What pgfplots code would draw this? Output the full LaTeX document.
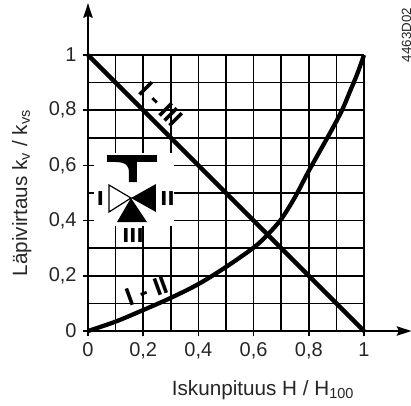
\documentclass[border=0pt]{standalone}
\usepackage{fontspec}
\setmainfont{Liberation Sans}
\usepackage{pgfplots}
\pgfplotsset{compat=1.18}
\usetikzlibrary{arrows.meta}
\begin{document}
\begin{tikzpicture}
\useasboundingbox (-66pt,-55.5pt) rectangle +(308.25pt,303.75pt);
\begin{axis}[
  at={(0,0)}, anchor=origin,
  scale only axis, width=207pt, height=207pt,
  xmin=0, xmax=1, ymin=0, ymax=1,
  clip=false,
  axis line style={draw=none},
  xtick={0,0.2,0.4,0.6,0.8,1}, ytick={0,0.2,0.4,0.6,0.8,1},
  minor xtick={0.1,0.3,0.5,0.7,0.9}, minor ytick={0.1,0.3,0.5,0.7,0.9},
  xtick pos=left, ytick pos=left,
  tick align=outside, major tick length=4pt, minor tick length=0pt,
  tick style={black, line width=1.3pt},
  grid=both,
  major grid style={black, line width=1.3pt},
  minor grid style={black, line width=1.3pt},
  /pgf/number format/assume math mode=true,
  /pgf/number format/use comma,
  tick label style={font=\fontsize{15pt}{17pt}\selectfont, text=black!85},
  xticklabel style={yshift=-1pt},
  yticklabel style={xshift=-1pt},
  xlabel={Iskunpituus H / H\textsubscript{100}},
  ylabel={Läpivirtaus k\textsubscript{v} / k\textsubscript{vs}},
  label style={font=\fontsize{15.5pt}{17pt}\selectfont, text=black!85},
  xlabel style={at={(axis description cs:0.634,-0.214)}, anchor=center},
  ylabel style={at={(axis description cs:-0.24,0.5)}, anchor=center, rotate=0},
]
\addplot [black, line width=1.4pt, -{Stealth[length=11pt,width=7pt,inset=1.5pt]}] coordinates {(0,0) (1.172,0)};
\addplot [black, line width=1.4pt, -{Stealth[length=11pt,width=7pt,inset=1.5pt]}] coordinates {(0,0) (0,1.188)};
\addplot [black, line width=3.2pt, smooth, tension=0.5] coordinates {
(0,0) (0.1,0.034) (0.2,0.076) (0.3,0.12) (0.4,0.17) (0.5,0.232) (0.6,0.302) (0.65,0.348) (0.7,0.405) (0.75,0.485) (0.8,0.58) (0.87,0.705) (0.9,0.76) (0.925,0.81) (0.95,0.87) (0.975,0.93) (1,1)};
\addplot [black, line width=3.2pt] coordinates {(0,1) (1,0)};
\node [rotate=-45, font=\bfseries\fontsize{19pt}{20pt}\selectfont] at (axis cs:0.265,0.82) {I - III};
\node [rotate=20, font=\bfseries\fontsize{19pt}{20pt}\selectfont] at (axis cs:0.214,0.145) {I - II};
\end{axis}
\begin{scope}[shift={(-66pt,248.25pt)}, x=.75pt, y=-.75pt]
\fill [white] (94,153) rectangle (174,226);
% T handle
\fill [black] (107,155) rectangle (157,162);
\fill [black] (115,162) .. controls (126,162) and (129,166) .. (129,172) -- (129,182) -- (137,182) -- (137,162) -- cycle;
% valve
\draw [black, line width=.9pt, fill=white, line join=miter] (109,185) -- (109,212) -- (131,198) -- cycle;
\fill [black] (156,184) -- (156,212) -- (131,198) -- cycle;
\fill [black] (131,198) -- (117,222) -- (147,222) -- cycle;
\node [font=\bfseries\fontsize{19pt}{20pt}\selectfont] at (100.5,198.5) {\scalebox{1}[.8]{I}};
\node [font=\bfseries\fontsize{19pt}{20pt}\selectfont] at (167.5,198.5) {\scalebox{1}[.8]{II}};
\node [font=\bfseries\fontsize{19pt}{20pt}\selectfont] at (133,235.5) {\scalebox{1}[.8]{III}};
\node [rotate=90, font=\fontsize{10pt}{11pt}\selectfont, text=black!85] at (406.5,35) {4463D02};
\end{scope}
\end{tikzpicture}
\end{document}
